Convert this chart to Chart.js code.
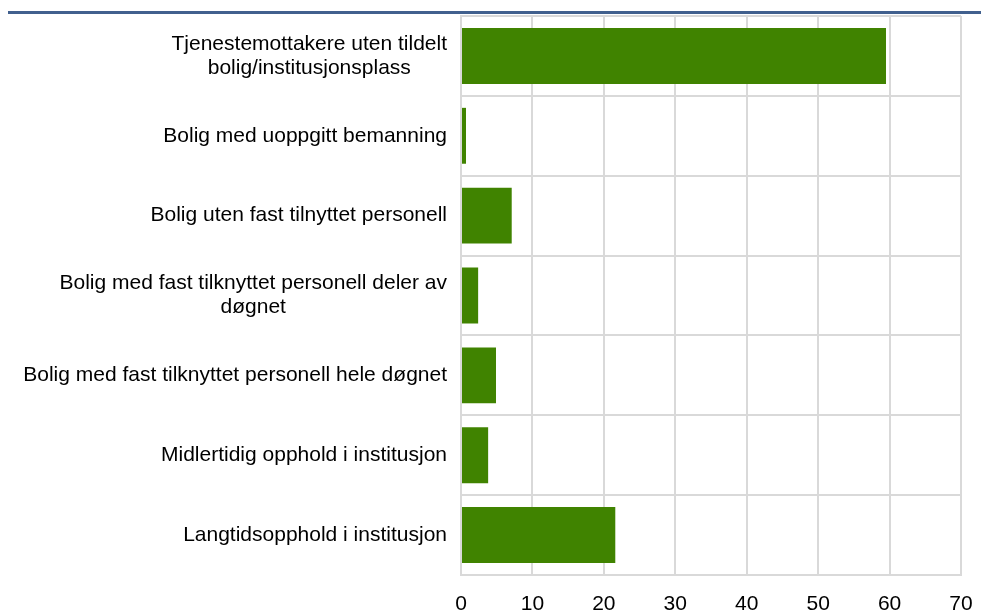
<!DOCTYPE html>
<html>
<head>
<meta charset="utf-8">
<script src="https://cdn.jsdelivr.net/npm/chart.js@4"></script>
<style>
  html, body { margin: 0; padding: 0; background: #fff; }
  #wrap { width: 1005px; height: 616px; position: relative; }
</style>
</head>
<body>
<div id="wrap"><canvas id="barChart"></canvas></div>
<script>
// categories (multi-line labels as arrays)
var categories = [
    ['Tjenestemottakere uten tildelt', 'bolig/institusjonsplass'],
    ['Bolig med uoppgitt bemanning'],
    ['Bolig uten fast tilnyttet personell'],
    ['Bolig med fast tilknyttet personell deler av', 'døgnet'],
    ['Bolig med fast tilknyttet personell hele døgnet'],
    ['Midlertidig opphold i institusjon'],
    ['Langtidsopphold i institusjon']
]
var values = [59.5, 0.7, 7.1, 2.4, 4.9, 3.8, 21.6]
var xTicks = [0, 10, 20, 30, 40, 50, 60, 70]

var labelFont = '21px "Liberation Sans", Arial, sans-serif'

// header rule and right-aligned / centred category labels
var decorPlugin = {
    id: 'decor',
    beforeDraw: function (chart) {
        var ctx = chart.ctx
        ctx.save()
        ctx.fillStyle = '#41608e'
        ctx.fillRect(8, 11, 973, 3)
        ctx.restore()
    },
    afterDraw: function (chart) {
        var ctx = chart.ctx
        var yScale = chart.scales.y
        ctx.save()
        ctx.font = labelFont
        ctx.fillStyle = '#000'
        ctx.textAlign = 'center'
        ctx.textBaseline = 'middle'
        var right = 447
        var lineH = 24
        categories.forEach(function (lines, i) {
            var w = 0
            lines.forEach(function (l) { w = Math.max(w, ctx.measureText(l).width) })
            var cy = yScale.getPixelForValue(i)
            var y0 = cy - (lines.length - 1) * lineH / 2
            lines.forEach(function (l, j) {
                ctx.fillText(l, right - w / 2, y0 + j * lineH)
            })
        })
        ctx.restore()
    }
}

var ctx = document.getElementById('barChart').getContext('2d')
var barChart = new Chart(ctx, {
    type: 'bar',
    data: {
        labels: categories,
        datasets: [{
            data: values,
            backgroundColor: '#408300',
            borderWidth: 0,
            categoryPercentage: 0.7,
            barPercentage: 1.0
        }]
    },
    options: {
        indexAxis: 'y',
        responsive: true,
        maintainAspectRatio: false,
        animation: false,
        layout: { padding: { top: 16, right: 44, left: 0, bottom: 0 } },
        plugins: {
            legend: { display: false },
            tooltip: { enabled: false }
        },
        scales: {
            x: {
                min: 0,
                max: 70,
                afterBuildTicks: function (scale) {
                    scale.ticks = xTicks.map(function (v) { return { value: v } })
                },
                afterFit: function (scale) { scale.height = 41 },
                grid: { color: '#d9d9d9', lineWidth: 2, drawTicks: false },
                border: { color: '#d9d9d9', width: 2 },
                ticks: {
                    color: '#000',
                    padding: 17,
                    maxRotation: 0,
                    font: { family: '"Liberation Sans", Arial, sans-serif', size: 21 }
                }
            },
            y: {
                afterFit: function (scale) { scale.width = 461 },
                grid: { color: '#d9d9d9', lineWidth: 2, drawTicks: false },
                border: { color: '#d9d9d9', width: 2 },
                ticks: { display: false }
            }
        }
    },
    plugins: [decorPlugin]
})
</script>
</body>
</html>
